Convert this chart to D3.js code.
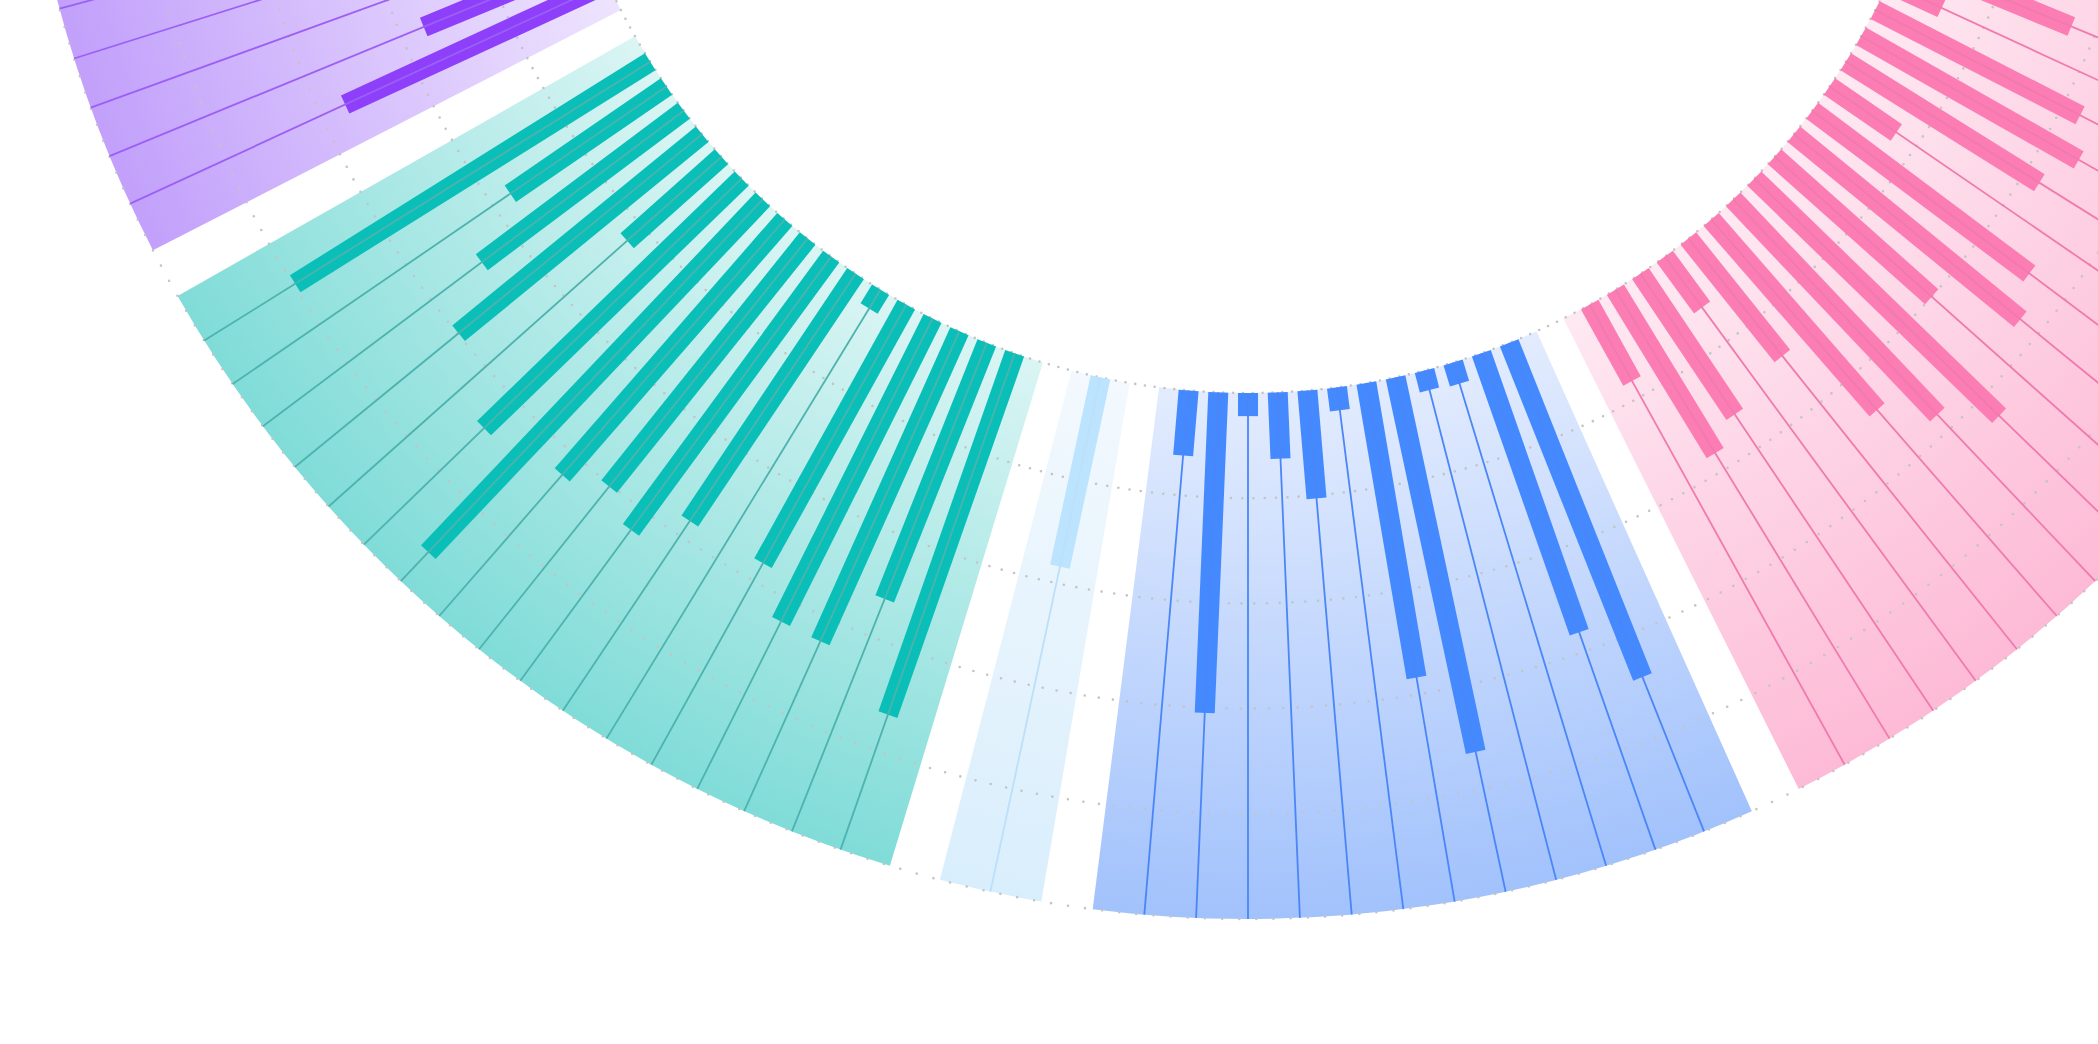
<!DOCTYPE html>
<html>
<head>
<meta charset="UTF-8">
<title>Radial bars</title>
<script src="https://d3js.org/d3.v7.min.js"></script>
<style>
	body {
		margin: 0;
		background: #fff;
	}
	svg {
		display: block;
	}
</style>
</head>
<body>
<svg id="viz"></svg>
<script>

	// values per group, listed clockwise (the group on the right of the ring first)
	var pinkValues = [1.76, 0.56, 2.19, 2.38, 2.17, 0.77, 2.58, 2.78, 2.0, 3.24, 2.82, 2.4, 1.43, 0.6, 1.61, 1.82, 0.83];
	var blueValues = [3.42, 2.81, 0.21, 0.19, 3.64, 2.84, 0.22, 1.03, 0.63, 0.22, 3.05, 0.62];
	var skyValues = [1.84];
	var tealValues = [3.64, 2.62, 3.23, 3.22, 2.81, 0.21, 2.83, 3.22, 3.02, 3.22, 4.62, 3.41, 1.2, 2.99, 2.4, 1.8, 3.98];
	var violetValues = [2.75, 1.77, null, null, null]; // last three bars end outside the frame
	var ringTicks = [0, 1, 2, 3, 4, 5];

	var palette = {
		pink:   {bar: "#fb7db4", line: "#f07aae", light: "#fee9f2", dark: "#fdbad6"},
		blue:   {bar: "#4589ff", line: "#4a86f8", light: "#e3ecfe", dark: "#a2c2fc"},
		sky:    {bar: "#bde4fe", line: "#bcdffa", light: "#f3f9fe", dark: "#d9eefc"},
		teal:   {bar: "#0abfb8", line: "#4db3ae", light: "#daf5f4", dark: "#80dcd8"},
		violet: {bar: "#8e3ffa", line: "#9c5ff6", light: "#eee4fe", dark: "#c2a0fb"}
	};

	var groups = [
		{key: "pink", values: pinkValues},
		{key: "blue", values: blueValues},
		{key: "sky", values: skyValues},
		{key: "teal", values: tealValues},
		{key: "violet", values: violetValues}
	];

	var width = 2098, height = 1044;
	var cx = 1248, cy = -312;
	var innerR = 705, outerR = 1231;
	var slotCount = 149;
	var anchor = 28; // slot that points straight down
	var barWidth = 20;

	// lay the items out on slots, two empty slots between groups
	var items = [];
	var spans = [];
	var slot = 0;
	groups.forEach(function(g, gi){
		if (gi > 0) slot += 2;
		var first = slot;
		g.values.forEach(function(v){
			items.push({key: g.key, value: v, slot: slot});
			slot++;
		});
		spans.push({key: g.key, first: first, last: slot - 1});
	});

	var angle = d3.scaleLinear()
		.domain([anchor - slotCount / 2, anchor + slotCount / 2])
		.range([0, 2 * Math.PI]);

	var rScale = d3.scaleLinear()
		.domain([0, 5])
		.range([innerR, outerR]);

	var svg = d3.select("#viz")
		.attr("width", width)
		.attr("height", height);

	var defs = svg.append("defs");
	groups.forEach(function(g){
		var grad = defs.append("radialGradient")
			.attr("id", "grad-" + g.key)
			.attr("gradientUnits", "userSpaceOnUse")
			.attr("cx", 0).attr("cy", 0).attr("r", outerR);
		grad.append("stop").attr("offset", innerR / outerR).attr("stop-color", palette[g.key].light);
		grad.append("stop").attr("offset", 1).attr("stop-color", palette[g.key].dark);
	});

	var chart = svg.append("g")
		.attr("transform", "translate(" + cx + "," + cy + ")");

	// sector backgrounds, padded one slot each side
	var arc = d3.arc()
		.innerRadius(innerR)
		.outerRadius(outerR)
		.startAngle(function(d){ return angle(d.first - 1); })
		.endAngle(function(d){ return angle(d.last + 1); });

	chart.selectAll("path.sector")
		.data(spans)
		.enter().append("path")
		.attr("class", "sector")
		.attr("d", arc)
		.attr("fill", function(d){ return "url(#grad-" + d.key + ")"; });

	// dotted rings
	chart.selectAll("circle.ring")
		.data(ringTicks)
		.enter().append("circle")
		.attr("class", "ring")
		.attr("r", function(d){ return rScale(d); })
		.attr("fill", "none")
		.attr("stroke", "#c4c4c4")
		.attr("stroke-width", 2.6)
		.attr("stroke-linecap", "round")
		.attr("stroke-dasharray", function(d){
			return "0 " + (2 * Math.PI * rScale(d) / 450);
		});

	var spoke = chart.selectAll("g.item")
		.data(items)
		.enter().append("g")
		.attr("class", "item")
		.attr("transform", function(d){
			return "rotate(" + (angle(d.slot) * 180 / Math.PI) + ")";
		});

	spoke.filter(function(d){ return d.value != null; })
		.append("rect")
		.attr("x", -barWidth / 2)
		.attr("y", function(d){ return -rScale(d.value); })
		.attr("width", barWidth)
		.attr("height", function(d){ return rScale(d.value) - innerR; })
		.attr("fill", function(d){ return palette[d.key].bar; });

	spoke.append("line")
		.attr("x1", 0).attr("y1", -innerR)
		.attr("x2", 0).attr("y2", -outerR)
		.attr("stroke", function(d){ return palette[d.key].line; })
		.attr("stroke-width", 1.8);

</script>
</body>
</html>
